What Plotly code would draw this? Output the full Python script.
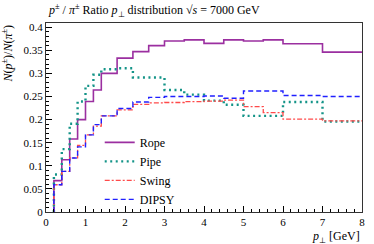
import plotly.graph_objects as go

edges = [0.2, 0.4, 0.6, 0.8, 1.0, 1.2, 1.4, 1.8, 2.2, 2.6, 3.0, 3.5, 4.0, 4.5, 5.0, 5.5, 6.0, 7.0, 8.0]
rope = [0.068, 0.113, 0.158, 0.200, 0.239, 0.264, 0.300, 0.333, 0.347, 0.360,
        0.370, 0.3725, 0.365, 0.3725, 0.370, 0.3725, 0.364, 0.346]
pipe = [0.081, 0.136, 0.191, 0.239, 0.273, 0.297, 0.309, 0.311, 0.291, 0.291,
        0.264, 0.254, 0.241, 0.232, 0.208, 0.208, 0.238, 0.196]
swing = [0.059, 0.088, 0.117, 0.144, 0.167, 0.186, 0.208, 0.221, 0.233, 0.236,
         0.237, 0.239, 0.240, 0.242, 0.228, 0.215, 0.201, 0.197]
dipsy = [0.059, 0.088, 0.117, 0.141, 0.167, 0.189, 0.208, 0.224, 0.238, 0.248,
         0.250, 0.250, 0.251, 0.246, 0.262, 0.262, 0.252, 0.250]

series = [
    ("Rope", rope, dict(color="#9b2fa0", width=1.6)),
    ("Pipe", pipe, dict(color="#149488", width=2.4, dash="2px,3.5px")),
    ("Swing", swing, dict(color="#ff4a4a", width=1.3, dash="5px,2px,2px,2px")),
    ("DIPSY", dipsy, dict(color="#2020ff", width=1.4, dash="5px,3px")),
]

SERIF = "Liberation Serif"
fig = go.Figure()
for name, vals, line in series:
    xs = [edges[0]] + edges
    ys = [0] + vals + [vals[-1]]
    fig.add_trace(go.Scatter(x=xs, y=ys, mode="lines", name=name,
                             line=dict(shape="hv", **line)))

fig.update_layout(
    width=374, height=244,
    margin=dict(l=46, r=12, t=23, b=32, autoexpand=False),
    paper_bgcolor="white", plot_bgcolor="white",
    font=dict(family=SERIF, size=11, color="black"),
    showlegend=True,
    legend=dict(x=0.17, y=0.445, xanchor="left", yanchor="top",
                bgcolor="rgba(0,0,0,0)", font=dict(family=SERIF, size=12),
                tracegroupgap=0, itemwidth=30),
    xaxis=dict(range=[0, 8], tickmode="array", tickvals=list(range(0, 9)),
               ticks="inside", ticklen=6, tickcolor="black",
               minor=dict(ticks="inside", dtick=0.2, ticklen=3, tickcolor="black"),
               showline=True, linecolor="#333", mirror=True, linewidth=1,
               showgrid=False, zeroline=False, tickfont=dict(size=11)),
    yaxis=dict(range=[0, 0.409], tickmode="array",
               tickvals=[0, 0.05, 0.1, 0.15, 0.2, 0.25, 0.3, 0.35, 0.4],
               ticktext=["0", "0.05", "0.1", "0.15", "0.2", "0.25", "0.3", "0.35", "0.4"],
               ticks="inside", ticklen=6, tickcolor="black",
               minor=dict(ticks="inside", dtick=0.01, ticklen=3, tickcolor="black"),
               showline=True, linecolor="#333", mirror=True, linewidth=1,
               showgrid=False, zeroline=False, tickfont=dict(size=11)),
    annotations=[
        dict(text="<i>p</i><sup>±</sup> / <i>π</i><sup>±</sup> Ratio <i>p</i><sub>⊥</sub> distribution √<i>s</i> = 7000 GeV",
             xref="paper", yref="paper", x=0, y=1, xanchor="left", yanchor="bottom",
             yshift=2, showarrow=False, font=dict(family=SERIF, size=12)),
        dict(text="<i>p</i><sub>⊥</sub> [GeV]", xref="paper", yref="paper",
             x=1, y=0, xanchor="right", yanchor="top", yshift=-15,
             showarrow=False, font=dict(family=SERIF, size=12)),
        dict(text="<i>N</i>(<i>p</i><sup>±</sup>)/<i>N</i>(<i>π</i><sup>±</sup>)",
             xref="paper", yref="paper", x=0, y=1, xanchor="right", yanchor="top",
             xshift=-30, textangle=-90, showarrow=False, font=dict(family=SERIF, size=12)),
    ],
)

fig.write_html("out.html", config={"displayModeBar": False},
               post_script="document.body.style.margin='0';")
